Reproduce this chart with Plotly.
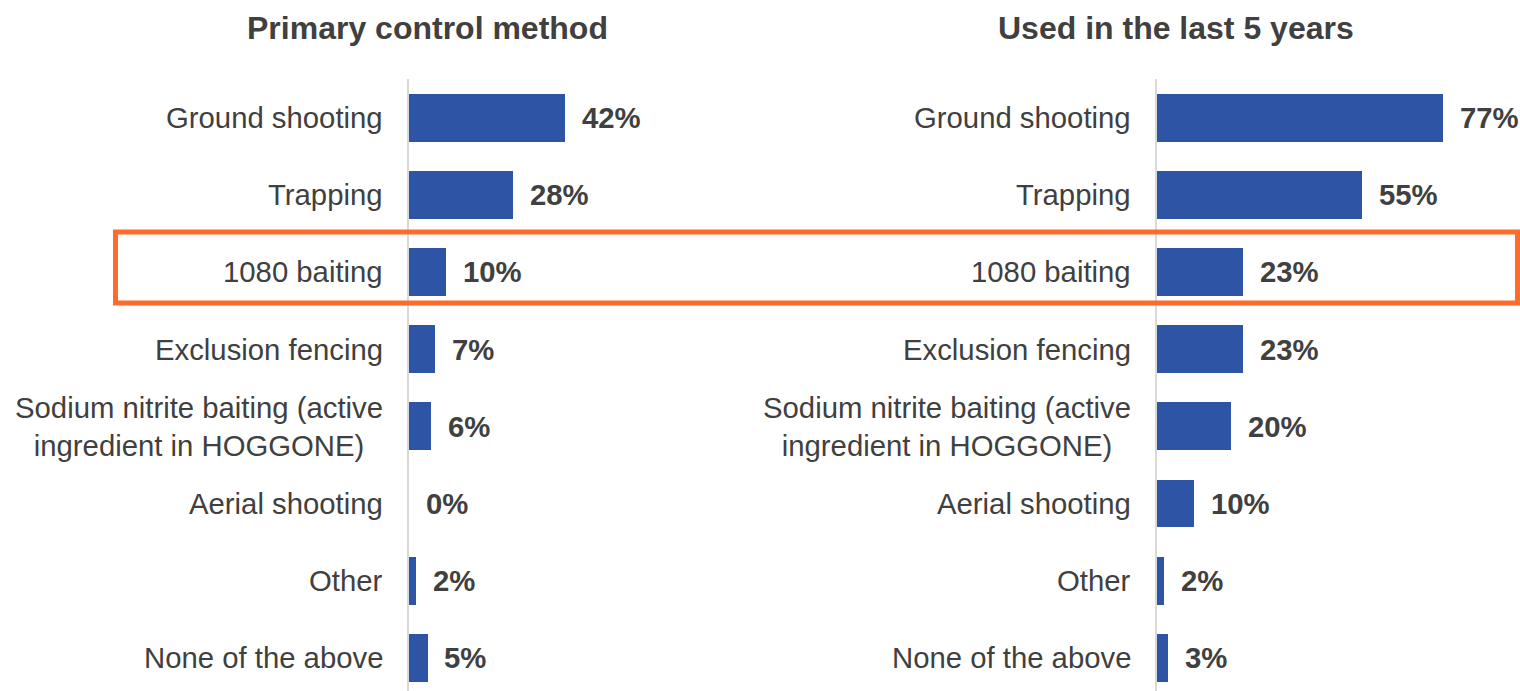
import plotly.graph_objects as go

# Survey responses: feral pig control methods
methods = [
    "Ground shooting",
    "Trapping",
    "1080 baiting",
    "Exclusion fencing",
    "Sodium nitrite baiting (active<br>ingredient in HOGGONE)",
    "Aerial shooting",
    "Other",
    "None of the above",
]
primary_pct = [42, 28, 10, 7, 6, 0, 2, 5]
last5_pct = [77, 55, 23, 23, 20, 10, 2, 3]
panel_titles = ["Primary control method", "Used in the last 5 years"]

W, H = 1520, 691
BAR = "#2E55A5"
TXT = "#404040"
FONT = "Liberation Sans, Arial, sans-serif"
LABEL_SIZE = 29.3

fig = go.Figure()

panels = [
    ("x", "y", primary_pct, [408.5 / W, 760 / W], 94.5),
    ("x2", "y2", last5_pct, [1157 / W, 1.0], 97.6),
]

for i, (xr, yr, vals, dom, xmax) in enumerate(panels):
    fig.add_trace(go.Bar(
        x=vals, y=methods, orientation="h",
        marker=dict(color=BAR, line=dict(width=0)),
        width=0.62, xaxis=xr, yaxis=yr, showlegend=False,
        hoverinfo="skip",
    ))
    sfx = "" if i == 0 else "2"
    fig.update_layout(**{
        f"xaxis{sfx}": dict(domain=dom, range=[0, xmax], visible=False,
                            fixedrange=True),
        f"yaxis{sfx}": dict(domain=[0, 1 - 79 / H], type="category",
                            categoryorder="array", categoryarray=methods,
                            range=[7.43, -0.5], showticklabels=False,
                            showgrid=False, zeroline=False, ticks="",
                            showline=True, linecolor="#D9D9D9", linewidth=1.5,
                            anchor=xr, fixedrange=True),
    })
    # category labels, lines centred within the block
    for m in methods:
        fig.add_annotation(
            x=0, y=m, xref=xr, yref=yr, text=m, showarrow=False,
            xanchor="right", yanchor="middle", align="center", xshift=-24,
            font=dict(family=FONT, size=LABEL_SIZE, color=TXT),
        )
    # value labels beside each bar
    for m, v in zip(methods, vals):
        fig.add_annotation(
            x=v, y=m, xref=xr, yref=yr, text=f"<b>{v}%</b>", showarrow=False,
            xanchor="left", yanchor="middle", xshift=15,
            font=dict(family=FONT, size=LABEL_SIZE, color=TXT),
        )

# panel headings
for cx, t in zip([427.5 / W, 1175.5 / W], panel_titles):
    fig.add_annotation(
        x=cx, y=1 - 28 / H, xref="paper", yref="paper", text=f"<b>{t}</b>",
        showarrow=False, xanchor="center", yanchor="middle",
        font=dict(family=FONT, size=32, color=TXT),
    )

# highlight box around the 1080 baiting row
fig.add_shape(
    type="rect", xref="paper", yref="paper",
    x0=115.5 / W, x1=1517.5 / W, y0=1 - 303 / H, y1=1 - 232 / H,
    line=dict(color="#FF6B2B", width=5), fillcolor="rgba(0,0,0,0)",
)

fig.update_layout(
    width=W, height=H, margin=dict(l=0, r=0, t=0, b=0),
    paper_bgcolor="white", plot_bgcolor="white",
    bargap=0, font=dict(family=FONT, color=TXT),
)

fig.write_html("out.html", config={"displayModeBar": False})
